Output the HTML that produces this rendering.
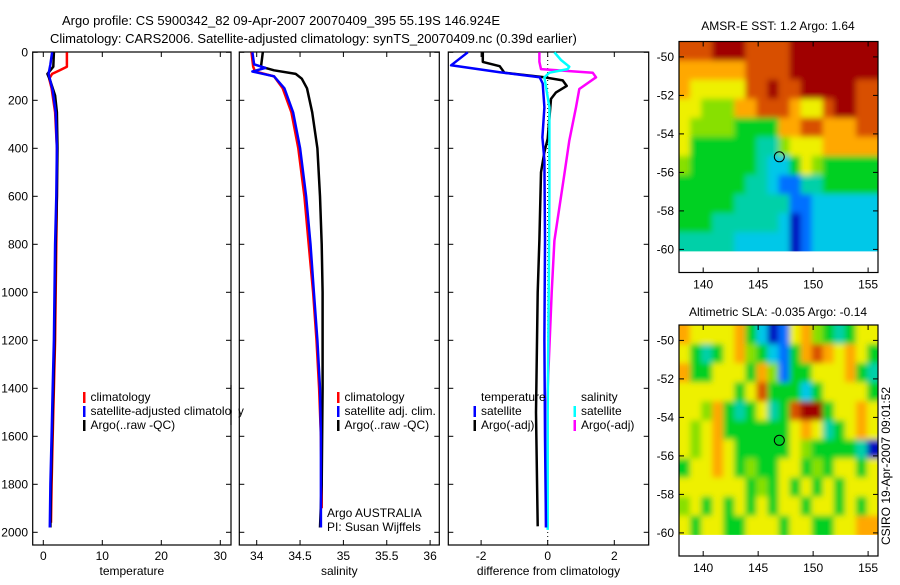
<!DOCTYPE html>
<html><head><meta charset="utf-8"><style>
html,body{margin:0;padding:0;background:#fff;}
svg text{font-family:"Liberation Sans",sans-serif;font-size:12px;fill:#000;}
</style></head><body>
<svg id="fig" width="900" height="580" viewBox="0 0 900 580" xmlns="http://www.w3.org/2000/svg">
<defs><filter id="smooth" x="-5%" y="-5%" width="110%" height="110%"><feGaussianBlur stdDeviation="3" edgeMode="duplicate"/></filter></defs>
<text x="62" y="25" style="font-size:13px">Argo profile: CS 5900342_82 09-Apr-2007 20070409_395 55.19S 146.924E</text>
<text x="50" y="43" style="font-size:13px">Climatology: CARS2006. Satellite-adjusted climatology: synTS_20070409.nc (0.39d earlier)</text>
<text x="778" y="30" text-anchor="middle">AMSR-E SST: 1.2 Argo: 1.64</text>
<text x="778" y="316" text-anchor="middle">Altimetric SLA: -0.035 Argo: -0.14</text>
<text transform="translate(890,545) rotate(-90)">CSIRO 19-Apr-2007 09:01:52</text>
<g id="layer"></g>
</svg>
<script>
// ---------- data ----------
const depthTicks=[0,200,400,600,800,1000,1200,1400,1600,1800,2000];
const tempTicks=[0,10,20,30];
const salTicks=[34,34.5,35,35.5,36];
const salTickLabels=["34","34.5","35","35.5","36"];
const diffTicks=[-2,0,2];
const lonTicks=[140,145,150,155];
const latTicks=[-50,-52,-54,-56,-58,-60];

const tClimDepth=[0,60,75,90,110,150,250,400,600,800,1000,1200,1400,1600,1800,1960];
const tClimVal=[4.0,4.0,2.8,1.5,1.0,1.4,2.0,2.3,2.3,2.2,2.1,2.0,1.8,1.6,1.4,1.3];
const tSatDepth=[0,50,90,110,160,250,400,600,800,1000,1200,1400,1600,1800,1980];
const tSatVal=[1.5,1.2,0.9,1.1,1.6,2.1,2.3,2.2,2.0,1.9,1.8,1.6,1.4,1.2,1.1];
const tArgoDepth=[0,60,90,120,180,250,400,600,800,1000,1200,1400,1600,1800,1980];
const tArgoVal=[1.8,1.7,0.7,1.2,2.0,2.3,2.4,2.3,2.1,2.0,1.9,1.7,1.5,1.3,1.2];

const sClimDepth=[0,60,80,100,150,250,400,600,800,1000,1200,1400,1600,1800,1900];
const sClimVal=[33.94,33.96,33.98,34.2,34.30,34.40,34.48,34.55,34.60,34.65,34.69,34.72,34.74,34.75,34.75];
const sSatDepth=[0,50,65,80,100,150,250,400,600,800,1000,1200,1400,1600,1800,1980];
const sSatVal=[33.95,33.97,34.1,33.95,34.2,34.32,34.42,34.5,34.57,34.62,34.66,34.70,34.73,34.74,34.74,34.74];
const sArgoDepth=[0,60,75,90,110,150,250,400,600,800,1000,1400,1800,1980];
const sArgoVal=[34.07,34.05,34.2,34.45,34.52,34.58,34.64,34.70,34.73,34.75,34.76,34.76,34.75,34.73];

const dTSatDepth=[0,54,83,104,130,229,354,450,783,1200,1600,1980];
const dTSatVal=[-2.4,-2.9,-1.44,-0.24,-0.15,-0.1,-0.16,-0.1,-0.08,-0.1,-0.08,-0.05];
const dTArgoDepth=[0,40,58,85,104,117,140,167,194,360,416,500,780,1000,1500,1975];
const dTArgoVal=[-1.95,-1.95,-1.44,-1.3,-0.1,0.45,0.57,0.25,0.1,0,-0.1,-0.2,-0.25,-0.3,-0.35,-0.3];
const dSSatDepth=[0,32,60,70,85,104,229,600,1000,1500,1990];
const dSSatVal=[0.2,0.4,0.65,0.6,0.05,-0.1,0.05,0.05,0.03,0.0,0.0];
const dSArgoDepth=[0,40,70,85,104,153,229,368,507,785,1000,1400,1600,1980];
const dSArgoVal=[-0.25,-0.25,-0.2,1.35,1.45,0.95,0.85,0.65,0.5,0.2,0.12,0.0,-0.05,-0.05];

const sstGrid=["888999888899999999","777777888899999999","766666889889999988","665557788876689988","655554444778877788","644444433566677777","544444432246544444","444444332113344444","444443333311222222","444333333201222222","333332222201222222"];
const slaGrid=["766667420167543466","643467542147876764","744666475144666743","666664684442466664","665743463489946676","656744444467634676","656764444465444430","466764544664546646","666666454646464666","564646464664664646","646644666466446677"];
const argoLon=146.924, argoLat=-55.19;
// ---------- drawing ----------
const NS="http://www.w3.org/2000/svg";
const layer=document.getElementById('layer');
const defs=document.querySelector('defs');
function mk(tag,attrs,parent){const e=document.createElementNS(NS,tag);for(const k in attrs)e.setAttribute(k,attrs[k]);(parent||layer).appendChild(e);return e;}
const yD=d=>52.3+0.24*d;
const panels=[
 {x0:32.7,x1:231,sx:v=>43.3+5.9*v,ticks:tempTicks,labels:tempTicks.map(String),title:"temperature",name:"temperature"},
 {x0:239.3,x1:439.3,sx:v=>256.7+86.7*(v-34),ticks:salTicks,labels:salTickLabels,title:"salinity",name:"salinity"},
 {x0:448.3,x1:648.7,sx:v=>547.7+33.3*v,ticks:diffTicks,labels:diffTicks.map(String),title:"difference from climatology",name:"difference"}];
const pTop=52, pBot=545;
panels.forEach((p,i)=>{
 const g=mk('g',{});
 
 
 const r=mk('rect',{x:p.x0,y:pTop,width:p.x1-p.x0,height:pBot-pTop,fill:'none',stroke:'#000','stroke-width':1.2},g);
 
 
 p.ticks.forEach((t,j)=>{
  const x=p.sx(t);
  mk('line',{x1:x,x2:x,y1:pBot,y2:pBot-5,stroke:'#000'},g);
  mk('line',{x1:x,x2:x,y1:pTop,y2:pTop+5,stroke:'#000'},g);
  const tx=mk('text',{x:x,y:560,'text-anchor':'middle'},g);tx.textContent=p.labels[j];
  
  
 });
 depthTicks.forEach(d=>{
  const y=yD(d);
  mk('line',{x1:p.x0,x2:p.x0+5,y1:y,y2:y,stroke:'#000'},g);
  mk('line',{x1:p.x1,x2:p.x1-5,y1:y,y2:y,stroke:'#000'},g);
  if(i===0){const tx=mk('text',{x:28,y:y+4,'text-anchor':'end'},g);tx.textContent=String(d);
   
   }
 });
 const tt=mk('text',{x:(p.x0+p.x1)/2,y:575,'text-anchor':'middle'},g);tt.textContent=p.title;
 
 
});
const zl=mk('line',{x1:panels[2].sx(0),x2:panels[2].sx(0),y1:pTop,y2:pBot,stroke:'#000','stroke-dasharray':'1,3'});


function line(p,ds,vs,color,name){
 const pts=ds.map((d,k)=>p.sx(vs[k]).toFixed(1)+','+yD(d).toFixed(1)).join(' ');
 const e=mk('polyline',{points:pts,fill:'none',stroke:color,'stroke-width':2.5,'stroke-linejoin':'round'});
 
 
}
line(panels[0],tClimDepth,tClimVal,'#ff0000','temp-climatology-line');
line(panels[0],tArgoDepth,tArgoVal,'#000','temp-argo-line');
line(panels[0],tSatDepth,tSatVal,'#0000ff','temp-satellite-line');
line(panels[1],sClimDepth,sClimVal,'#ff0000','sal-climatology-line');
line(panels[1],sArgoDepth,sArgoVal,'#000','sal-argo-line');
line(panels[1],sSatDepth,sSatVal,'#0000ff','sal-satellite-line');
line(panels[2],dTArgoDepth,dTArgoVal,'#000','dtemp-argo-line');
line(panels[2],dSArgoDepth,dSArgoVal,'#ff00ff','dsal-argo-line');
line(panels[2],dSSatDepth,dSSatVal,'#00ffff','dsal-satellite-line');
line(panels[2],dTSatDepth,dTSatVal,'#0000ff','dtemp-satellite-line');
function leg(x,y,color,text,name){
 if(color){const m=mk('rect',{x:x,y:y-9,width:2.5,height:11,fill:color});
  
  }
 const t=mk('text',{x:x+7.5,y:y});t.textContent=text;
 
 
}
leg(83,401,'#ff0000','climatology','legend-temp-climatology');
leg(83,415,'#0000ff','satellite-adjusted climatology','legend-temp-satellite');
leg(83,429,'#000','Argo(..raw -QC)','legend-temp-argo');
leg(337,401,'#ff0000','climatology','legend-sal-climatology');
leg(337,415,'#0000ff','satellite adj. clim.','legend-sal-satellite');
leg(337,429,'#000','Argo(..raw -QC)','legend-sal-argo');
leg(473.5,401,null,'temperature','legend-temperature-header');
leg(473.5,415,'#0000ff','satellite','legend-dtemp-satellite');
leg(473.5,429,'#000','Argo(-adj)','legend-dtemp-argo');
leg(573.5,401,null,'salinity','legend-salinity-header');
leg(573.5,415,'#00ffff','satellite','legend-dsal-satellite');
leg(573.5,429,'#ff00ff','Argo(-adj)','legend-dsal-argo');
const cv=mk('rect',{x:232,y:390,width:6.5,height:30,fill:'#fff'});


mk('line',{x1:231,x2:231,y1:385,y2:425,stroke:'#000','stroke-width':1.2});
const t1=mk('text',{x:327,y:517});t1.textContent='Argo AUSTRALIA';


const t2=mk('text',{x:327,y:531});t2.textContent='PI: Susan Wijffels';


// maps
const cmap=['#0010c0','#0070ff','#00c8e8','#00d0a8','#00d020','#88e000','#eef000','#ffa800','#d85000','#a00000'];
const lonMin=137.8,lonMax=155.9;
const mx=l=>679+(l-lonMin)*(199/(lonMax-lonMin));
function drawMap(grid,y0,name){
 const my=la=>y0+(-49.2-la)*19.25;
 const g=mk('g',{});
 
 
 const nr=grid.length,nc=grid[0].length;
 const lat0=-49.2,lat1=-60.1;
 const cid=name+'-clip';
 const cp=mk('clipPath',{id:cid},defs);
 mk('rect',{x:mx(lonMin),y:my(lat0),width:mx(lonMax)-mx(lonMin),height:my(lat1)-my(lat0)},cp);
 const clipG=mk('g',{'clip-path':'url(#'+cid+')'},g);
 const cells=mk('g',{filter:'url(#smooth)'},clipG);
 for(let r=0;r<nr;r++)for(let c=0;c<nc;c++){
  const la=lat0+(lat1-lat0)*r/nr, lb=lat0+(lat1-lat0)*(r+1)/nr;
  const loa=lonMin+(lonMax-lonMin)*c/nc, lob=lonMin+(lonMax-lonMin)*(c+1)/nc;
  // extend outer cells to avoid blur fading at edges
  let x=mx(loa),w=mx(lob)-mx(loa)+0.5,y=my(la),h=my(lb)-my(la)+0.5;
  if(c===0){x-=8;w+=8;} if(c===nc-1){w+=8;}
  if(r===0){y-=8;h+=8;} if(r===nr-1){h+=8;}
  const cell=mk('rect',{x:x,y:y,width:w,height:h,fill:cmap[+grid[r][c]]},cells);
  
  
 }
 const yb=my(-61.2);
 const box=mk('rect',{x:679,y:y0,width:199,height:yb-y0,fill:'none',stroke:'#000','stroke-width':1.2},g);
 
 
 lonTicks.forEach(l=>{const x=mx(l);
  mk('line',{x1:x,x2:x,y1:yb,y2:yb-5,stroke:'#000'},g);
  mk('line',{x1:x,x2:x,y1:y0,y2:y0+5,stroke:'#000'},g);
  const t=mk('text',{x:x,y:yb+16,'text-anchor':'middle'},g);t.textContent=String(l);
  
  });
 latTicks.forEach(l=>{const y=my(l);
  mk('line',{x1:679,x2:684,y1:y,y2:y,stroke:'#000'},g);
  mk('line',{x1:878,x2:873,y1:y,y2:y,stroke:'#000'},g);
  const t=mk('text',{x:674,y:y+4,'text-anchor':'end'},g);t.textContent=String(l);
  
  });
 const c=mk('circle',{cx:mx(argoLon),cy:my(argoLat),r:5,fill:'none',stroke:'#000','stroke-width':1},g);
 
 
}
drawMap(sstGrid,41.5,'sst-map');
drawMap(slaGrid,325,'sla-map');
</script>
</body></html>
